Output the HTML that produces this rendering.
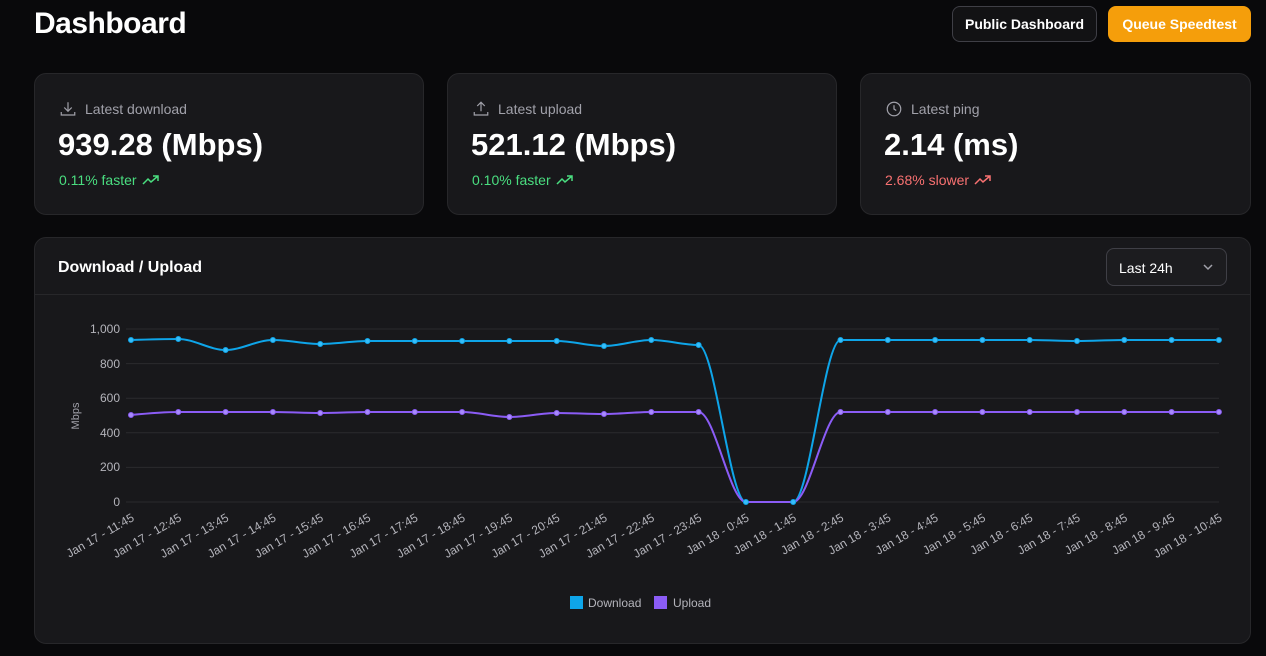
<!DOCTYPE html>
<html><head><meta charset="utf-8"><style>
*{box-sizing:border-box;margin:0;padding:0}
body{width:1266px;height:656px;background:#09090b;font-family:"Liberation Sans",sans-serif;color:#fff;position:relative;overflow:hidden}
h1{position:absolute;left:34px;top:7px;font-size:30px;font-weight:700;letter-spacing:-0.5px}
.btn{position:absolute;top:6px;height:36px;border-radius:8px;font-size:14px;font-weight:700;display:flex;align-items:center;justify-content:center}
.card{position:absolute;background:#18181b;border:1px solid #27272a;border-radius:12px}
.lbl{position:absolute;left:24px;top:26px;font-size:14px;color:#a1a1aa;display:flex;align-items:center;gap:8px}
.val{position:absolute;left:23px;top:53px;font-size:31px;font-weight:700}
.chg{position:absolute;left:24px;top:98px;font-size:14px;display:flex;align-items:center;gap:5px}
</style></head><body>
<h1>Dashboard</h1>
<div class="btn" style="left:952px;width:145px;border:1px solid #3f3f46;background:#121214">Public Dashboard</div>
<div class="btn" style="left:1108px;width:143px;background:#f59e0b">Queue Speedtest</div>

<div class="card" style="left:34px;top:73px;width:390px;height:142px">
<div class="lbl"><svg width="18" height="18" viewBox="0 0 24 24" fill="none" stroke="#a1a1aa" stroke-width="1.6"><path d="M3 16v4h18v-4M12 3v12M7 10l5 5 5-5"/></svg>Latest download</div>
<div class="val">939.28 (Mbps)</div>
<div class="chg" style="color:#4ade80">0.11% faster <svg width="18" height="12" viewBox="0 0 18 12" fill="none" stroke="#4ade80" stroke-width="1.5"><path d="M1 10l5-5 3 3 7-6M11 2h5v5"/></svg></div></div>

<div class="card" style="left:447px;top:73px;width:390px;height:142px">
<div class="lbl"><svg width="18" height="18" viewBox="0 0 24 24" fill="none" stroke="#a1a1aa" stroke-width="1.6"><path d="M3 16v4h18v-4M12 15V3M7 8l5-5 5 5"/></svg>Latest upload</div>
<div class="val">521.12 (Mbps)</div>
<div class="chg" style="color:#4ade80">0.10% faster <svg width="18" height="12" viewBox="0 0 18 12" fill="none" stroke="#4ade80" stroke-width="1.5"><path d="M1 10l5-5 3 3 7-6M11 2h5v5"/></svg></div></div>

<div class="card" style="left:860px;top:73px;width:391px;height:142px">
<div class="lbl"><svg width="18" height="18" viewBox="0 0 24 24" fill="none" stroke="#a1a1aa" stroke-width="1.6"><circle cx="12" cy="12" r="9"/><path d="M12 7v5l3 2"/></svg>Latest ping</div>
<div class="val">2.14 (ms)</div>
<div class="chg" style="color:#f87171">2.68% slower <svg width="18" height="12" viewBox="0 0 18 12" fill="none" stroke="#f87171" stroke-width="1.5"><path d="M1 10l5-5 3 3 7-6M11 2h5v5"/></svg></div></div>

<div class="card" style="left:34px;top:237px;width:1217px;height:407px">
<div style="position:absolute;left:23px;top:21px;font-size:16px;font-weight:700">Download / Upload</div>
<div style="position:absolute;left:1071px;top:10px;width:121px;height:38px;border:1px solid #3f3f46;border-radius:8px;background:#1c1c1f;font-size:14px;padding:11px 12px">Last 24h<svg style="position:absolute;right:12px;top:14px" width="12" height="8" viewBox="0 0 12 8" fill="none" stroke="#a1a1aa" stroke-width="1.5"><path d="M2 2l4 4 4-4"/></svg></div>
<div style="position:absolute;left:0;top:56px;width:100%;border-top:1px solid #27272a"></div>
</div>

<svg style="position:absolute;left:0;top:0" width="1266" height="656" font-family="Liberation Sans, sans-serif">
<g stroke="#2a2a2e" stroke-width="1">
<line x1="126" x2="1219" y1="329" y2="329"/><line x1="126" x2="1219" y1="363.6" y2="363.6"/><line x1="126" x2="1219" y1="398.2" y2="398.2"/><line x1="126" x2="1219" y1="432.8" y2="432.8"/><line x1="126" x2="1219" y1="467.4" y2="467.4"/><line x1="126" x2="1219" y1="502" y2="502"/>
</g>
<g fill="#b4b4bb" font-size="12" text-anchor="end">
<text x="120" y="333">1,000</text><text x="120" y="368">800</text><text x="120" y="402">600</text><text x="120" y="437">400</text><text x="120" y="471">200</text><text x="120" y="506">0</text>
</g>
<text transform="translate(79,416) rotate(-90)" fill="#a1a1aa" font-size="11" text-anchor="middle">Mbps</text>
<path fill="none" stroke="#0ea5e9" stroke-width="2" d="M131,340 S162.3,339 178.3,339 S209.6,350 225.6,350 S256.9,340 272.9,340 S304.2,344 320.2,344 S351.5,341 367.5,341 S398.8,341 414.8,341 S446.1,341 462.1,341 S493.4,341 509.4,341 S540.7,341 556.7,341 S588,346 604,346 S635.3,340 651.3,340 S682.6,345 698.6,345 S729.9,502 745.9,502 S777.2,502 793.2,502 S824.5,340 840.5,340 S871.8,340 887.8,340 S919.1,340 935.1,340 S966.4,340 982.4,340 S1013.7,340 1029.7,340 S1061,341 1077,341 S1108.3,340 1124.3,340 S1155.6,340 1171.6,340 S1202.9,340 1218.9,340"/>
<path fill="none" stroke="#8b5cf6" stroke-width="2" d="M131,415 S162.3,412 178.3,412 S209.6,412 225.6,412 S256.9,412 272.9,412 S304.2,413 320.2,413 S351.5,412 367.5,412 S398.8,412 414.8,412 S446.1,412 462.1,412 S493.4,417 509.4,417 S540.7,413 556.7,413 S588,414 604,414 S635.3,412 651.3,412 S682.6,412 698.6,412 S729.9,502 745.9,502 S777.2,502 793.2,502 S824.5,412 840.5,412 S871.8,412 887.8,412 S919.1,412 935.1,412 S966.4,412 982.4,412 S1013.7,412 1029.7,412 S1061,412 1077,412 S1108.3,412 1124.3,412 S1155.6,412 1171.6,412 S1202.9,412 1218.9,412"/>
<g fill="#38bdf8" stroke="#0ea5e9"><circle cx="131" cy="340" r="2.5"/><circle cx="178.3" cy="339" r="2.5"/><circle cx="225.6" cy="350" r="2.5"/><circle cx="272.9" cy="340" r="2.5"/><circle cx="320.2" cy="344" r="2.5"/><circle cx="367.5" cy="341" r="2.5"/><circle cx="414.8" cy="341" r="2.5"/><circle cx="462.1" cy="341" r="2.5"/><circle cx="509.4" cy="341" r="2.5"/><circle cx="556.7" cy="341" r="2.5"/><circle cx="604" cy="346" r="2.5"/><circle cx="651.3" cy="340" r="2.5"/><circle cx="698.6" cy="345" r="2.5"/><circle cx="745.9" cy="502" r="2.5"/><circle cx="793.2" cy="502" r="2.5"/><circle cx="840.5" cy="340" r="2.5"/><circle cx="887.8" cy="340" r="2.5"/><circle cx="935.1" cy="340" r="2.5"/><circle cx="982.4" cy="340" r="2.5"/><circle cx="1029.7" cy="340" r="2.5"/><circle cx="1077" cy="341" r="2.5"/><circle cx="1124.3" cy="340" r="2.5"/><circle cx="1171.6" cy="340" r="2.5"/><circle cx="1218.9" cy="340" r="2.5"/></g>
<g fill="#a78bfa" stroke="#8b5cf6"><circle cx="131" cy="415" r="2.5"/><circle cx="178.3" cy="412" r="2.5"/><circle cx="225.6" cy="412" r="2.5"/><circle cx="272.9" cy="412" r="2.5"/><circle cx="320.2" cy="413" r="2.5"/><circle cx="367.5" cy="412" r="2.5"/><circle cx="414.8" cy="412" r="2.5"/><circle cx="462.1" cy="412" r="2.5"/><circle cx="509.4" cy="417" r="2.5"/><circle cx="556.7" cy="413" r="2.5"/><circle cx="604" cy="414" r="2.5"/><circle cx="651.3" cy="412" r="2.5"/><circle cx="698.6" cy="412" r="2.5"/><circle cx="840.5" cy="412" r="2.5"/><circle cx="887.8" cy="412" r="2.5"/><circle cx="935.1" cy="412" r="2.5"/><circle cx="982.4" cy="412" r="2.5"/><circle cx="1029.7" cy="412" r="2.5"/><circle cx="1077" cy="412" r="2.5"/><circle cx="1124.3" cy="412" r="2.5"/><circle cx="1171.6" cy="412" r="2.5"/><circle cx="1218.9" cy="412" r="2.5"/></g>
<g fill="#b4b4bb" font-size="12" text-anchor="end">
<text transform="translate(135,520) rotate(-30)">Jan 17 - 11:45</text>
<text transform="translate(182.3,520) rotate(-30)">Jan 17 - 12:45</text>
<text transform="translate(229.6,520) rotate(-30)">Jan 17 - 13:45</text>
<text transform="translate(276.9,520) rotate(-30)">Jan 17 - 14:45</text>
<text transform="translate(324.2,520) rotate(-30)">Jan 17 - 15:45</text>
<text transform="translate(371.5,520) rotate(-30)">Jan 17 - 16:45</text>
<text transform="translate(418.8,520) rotate(-30)">Jan 17 - 17:45</text>
<text transform="translate(466.1,520) rotate(-30)">Jan 17 - 18:45</text>
<text transform="translate(513.4,520) rotate(-30)">Jan 17 - 19:45</text>
<text transform="translate(560.7,520) rotate(-30)">Jan 17 - 20:45</text>
<text transform="translate(608,520) rotate(-30)">Jan 17 - 21:45</text>
<text transform="translate(655.3,520) rotate(-30)">Jan 17 - 22:45</text>
<text transform="translate(702.6,520) rotate(-30)">Jan 17 - 23:45</text>
<text transform="translate(749.9,520) rotate(-30)">Jan 18 - 0:45</text>
<text transform="translate(797.2,520) rotate(-30)">Jan 18 - 1:45</text>
<text transform="translate(844.5,520) rotate(-30)">Jan 18 - 2:45</text>
<text transform="translate(891.8,520) rotate(-30)">Jan 18 - 3:45</text>
<text transform="translate(939.1,520) rotate(-30)">Jan 18 - 4:45</text>
<text transform="translate(986.4,520) rotate(-30)">Jan 18 - 5:45</text>
<text transform="translate(1033.7,520) rotate(-30)">Jan 18 - 6:45</text>
<text transform="translate(1081,520) rotate(-30)">Jan 18 - 7:45</text>
<text transform="translate(1128.3,520) rotate(-30)">Jan 18 - 8:45</text>
<text transform="translate(1175.6,520) rotate(-30)">Jan 18 - 9:45</text>
<text transform="translate(1222.9,520) rotate(-30)">Jan 18 - 10:45</text>
</g>
<rect x="570" y="596" width="13" height="13" fill="#0ea5e9"/><text x="588" y="607" fill="#b4b4bb" font-size="12">Download</text>
<rect x="654" y="596" width="13" height="13" fill="#8b5cf6"/><text x="673" y="607" fill="#b4b4bb" font-size="12">Upload</text>
</svg>
</body></html>
